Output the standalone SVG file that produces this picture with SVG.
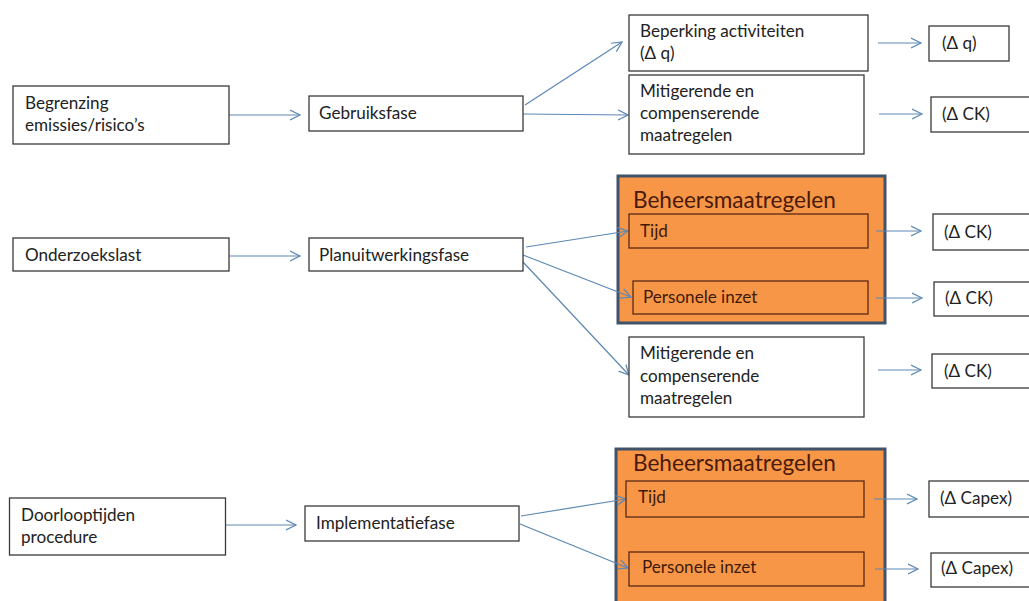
<svg xmlns="http://www.w3.org/2000/svg" width="1029" height="601" viewBox="0 0 1029 601">
<style>
.box{fill:#fff;stroke:#3a3a3a;stroke-width:1.3}
.grp{fill:#f79646;stroke:#41536b;stroke-width:3}
.ibox{fill:#f79646;stroke:#5a2a18;stroke-width:1.3}
.t{font-family:Lato,"Open Sans","DejaVu Sans",sans-serif;font-size:17.1px;fill:#222}
.it{font-family:Lato,"Open Sans","DejaVu Sans",sans-serif;font-size:17.1px;fill:#3f1a0a}
.title{font-family:Lato,"Open Sans","DejaVu Sans",sans-serif;font-size:22.6px;fill:#4a1a0a}
.c{stroke:#5b87b3;stroke-width:1.2;fill:none;marker-end:url(#ah)}
</style>
<defs>
<marker id="ah" markerWidth="12" markerHeight="12" refX="10" refY="5" orient="auto" markerUnits="userSpaceOnUse" viewBox="0 0 12 10">
<path d="M0,0 L10,5 L0,10" fill="none" stroke="#5b87b3" stroke-width="1.2"/>
</marker>
</defs>
<rect width="1029" height="601" fill="#fff"/>

<g id="groups">
<g id="beheers1"><rect class="grp" x="618" y="176" width="267" height="147"/><text class="title" x="633" y="208">Beheersmaatregelen</text></g>
<g id="beheers2"><rect class="grp" x="616" y="449" width="269" height="165"/><text class="title" x="633" y="471">Beheersmaatregelen</text></g>
</g>

<g id="connectors">
<path class="c" d="M229,115 L300,115"/>
<path class="c" d="M229,256 L300,256"/>
<path class="c" d="M225,525 L296,525"/>
<path class="c" d="M525,105 L622,42"/>
<path class="c" d="M523,114 L628,115"/>
<path class="c" d="M526,247 L628,231"/>
<path class="c" d="M523,255 L631,297"/>
<path class="c" d="M523,262 L629,375"/>
<path class="c" d="M521,516 L626,499"/>
<path class="c" d="M520,524 L628,568"/>
<path class="c" d="M878,43 L921,43"/>
<path class="c" d="M879,114 L922,114"/>
<path class="c" d="M876,231 L921,231"/>
<path class="c" d="M876,298 L922,298"/>
<path class="c" d="M878,370 L921,370"/>
<path class="c" d="M874,499 L917,499"/>
<path class="c" d="M875,569 L918,569"/>
</g>

<g id="n-begrenzing"><rect class="box" x="13" y="86" width="216" height="58"/><text class="t" x="25" y="109">Begrenzing</text><text class="t" x="25" y="131">emissies/risico’s</text></g>
<g id="n-onderzoek"><rect class="box" x="13" y="238" width="216" height="33"/><text class="t" x="25" y="261">Onderzoekslast</text></g>
<g id="n-doorloop"><rect class="box" x="9.5" y="498" width="216" height="57"/><text class="t" x="21" y="521">Doorlooptijden</text><text class="t" x="21" y="543">procedure</text></g>

<g id="n-gebruik"><rect class="box" x="309" y="96" width="214" height="35"/><text class="t" x="319" y="119">Gebruiksfase</text></g>
<g id="n-plan"><rect class="box" x="309" y="238" width="214" height="33"/><text class="t" x="319" y="261">Planuitwerkingsfase</text></g>
<g id="n-impl"><rect class="box" x="305" y="506" width="214" height="35"/><text class="t" x="316" y="529">Implementatiefase</text></g>

<g id="n-beperking"><rect class="box" x="629" y="15" width="239" height="56"/><text class="t" x="640" y="37">Beperking activiteiten</text><text class="t" x="640" y="59">(Δ q)</text></g>
<g id="n-mitig1"><rect class="box" x="629" y="75" width="235" height="79"/><text class="t" x="640" y="97">Mitigerende en</text><text class="t" x="640" y="119">compenserende</text><text class="t" x="640" y="141">maatregelen</text></g>
<g id="n-tijd1"><rect class="ibox" x="629" y="214" width="239" height="34"/><text class="it" x="640" y="237">Tijd</text></g>
<g id="n-pers1"><rect class="ibox" x="633" y="281" width="235" height="33"/><text class="it" x="643" y="303">Personele inzet</text></g>
<g id="n-mitig2"><rect class="box" x="629" y="337" width="235" height="80"/><text class="t" x="640" y="359">Mitigerende en</text><text class="t" x="640" y="382">compenserende</text><text class="t" x="640" y="404">maatregelen</text></g>
<g id="n-tijd2"><rect class="ibox" x="626" y="481" width="238" height="36"/><text class="it" x="638" y="503">Tijd</text></g>
<g id="n-pers2"><rect class="ibox" x="629" y="552" width="235" height="34"/><text class="it" x="642" y="573">Personele inzet</text></g>

<g id="n-dq"><rect class="box" x="929" y="26" width="80" height="35"/><text class="t" x="942" y="49">(Δ q)</text></g>
<g id="n-dck1"><rect class="box" x="931" y="97" width="110" height="35"/><text class="t" x="942" y="120">(Δ CK)</text></g>
<g id="n-dck2"><rect class="box" x="933" y="214" width="110" height="36"/><text class="t" x="944" y="238">(Δ CK)</text></g>
<g id="n-dck3"><rect class="box" x="934" y="282" width="110" height="34"/><text class="t" x="945" y="304">(Δ CK)</text></g>
<g id="n-dck4"><rect class="box" x="932" y="354" width="110" height="34"/><text class="t" x="944" y="377">(Δ CK)</text></g>
<g id="n-dcapex1"><rect class="box" x="929" y="481" width="110" height="36"/><text class="t" x="940" y="504">(Δ Capex)</text></g>
<g id="n-dcapex2"><rect class="box" x="931" y="553" width="110" height="34"/><text class="t" x="941" y="574">(Δ Capex)</text></g>
</svg>
